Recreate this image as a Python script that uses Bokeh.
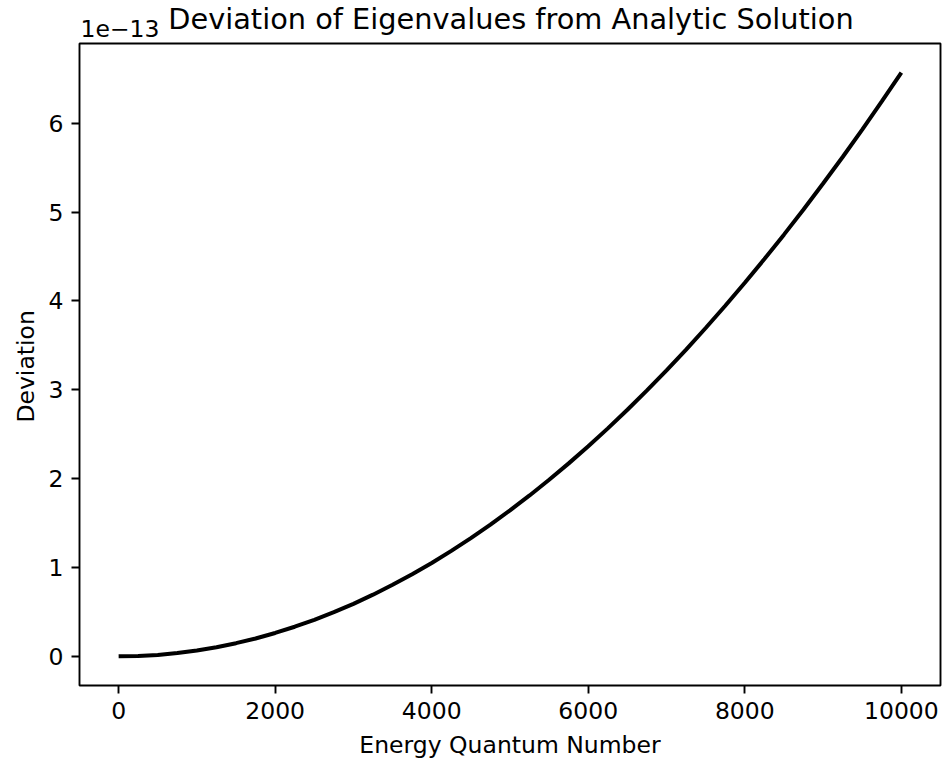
from bokeh.plotting import figure
from bokeh.models import FixedTicker, Label, Range1d, BoxAnnotation
from bokeh.embed import file_html
from bokeh.resources import INLINE

# Energy quantum number (x) and deviation (in units of 1e-13)
quantum_number = [0, 250, 500, 750, 1000, 1250, 1500, 1750, 2000, 2250, 2500, 2750,
                  3000, 3250, 3500, 3750, 4000, 4250, 4500, 4750, 5000, 5250, 5500,
                  5750, 6000, 6250, 6500, 6750, 7000, 7250, 7500, 7750, 8000, 8250,
                  8500, 8750, 9000, 9250, 9500, 9750, 10000]
deviation_e13 = [0.000, 0.004, 0.016, 0.037, 0.066, 0.103, 0.148, 0.201, 0.263, 0.333,
                 0.411, 0.497, 0.591, 0.694, 0.805, 0.924, 1.051, 1.187, 1.330, 1.482,
                 1.643, 1.811, 1.987, 2.172, 2.365, 2.566, 2.776, 2.993, 3.219, 3.453,
                 3.696, 3.946, 4.205, 4.472, 4.747, 5.030, 5.322, 5.621, 5.929, 6.246,
                 6.570]
x_ticks = [0, 2000, 4000, 6000, 8000, 10000]
y_ticks = [0, 1, 2, 3, 4, 5, 6]
offset_text = "1e\u221213"
title_text = "Deviation of Eigenvalues from Analytic Solution"
x_label = "Energy Quantum Number"
y_label = "Deviation"

FONT = "DejaVu Sans"
TICK = "23.5px"
W, H = 946, 762
# visible axes box (pixels): left, right, top, bottom
BOX_L, BOX_R, BOX_T, BOX_B = 79, 940, 43, 685
M = 2  # spare pixels of the frame around the box so its border is not clipped
OFFSET_ANCHOR, TITLE_ANCHOR = 27.5, 18.5  # text anchors, pixels from the top

xmin, xmax = min(quantum_number), max(quantum_number)
ymin, ymax = min(deviation_e13), max(deviation_e13)
x_lo, x_hi = xmin - 0.05 * (xmax - xmin), xmax + 0.05 * (xmax - xmin)
y_lo, y_hi = ymin - 0.05 * (ymax - ymin), ymax + 0.05 * (ymax - ymin)

sx = (BOX_R - BOX_L) / (x_hi - x_lo)
sy = (BOX_B - BOX_T) / (y_hi - y_lo)

p = figure(width=W, height=H, output_backend="svg", toolbar_location=None, title=None,
           x_range=Range1d(x_lo - M / sx, x_hi + M / sx),
           y_range=Range1d(y_lo - M / sy, y_hi + BOX_T / sy),
           min_border_left=BOX_L - M, min_border_right=W - BOX_R - M,
           min_border_top=0, min_border_bottom=H - BOX_B - M)
p.border_fill_color = "white"
p.background_fill_color = "white"
p.outline_line_color = None
p.grid.visible = False

p.add_layout(BoxAnnotation(left=x_lo, right=x_hi, bottom=y_lo, top=y_hi,
                           fill_color=None, fill_alpha=0, line_color="black",
                           line_alpha=1.0, line_width=1.9, level="underlay"))

p.line(quantum_number, deviation_e13, line_color="black", line_width=4)

for ax in (p.xaxis[0], p.yaxis[0]):
    ax.axis_line_color = None
    ax.major_tick_line_color = "black"
    ax.major_tick_line_width = 1.9
    ax.major_tick_out = 8 - M
    ax.major_tick_in = M
    ax.minor_tick_line_color = None
    ax.major_label_text_font = FONT
    ax.major_label_text_font_size = TICK
    ax.major_label_text_color = "black"
    ax.axis_label_text_font = FONT
    ax.axis_label_text_font_size = TICK
    ax.axis_label_text_font_style = "normal"
    ax.axis_label_text_color = "black"

p.xaxis.ticker = FixedTicker(ticks=x_ticks)
p.yaxis.ticker = FixedTicker(ticks=y_ticks)
p.xaxis.axis_label = x_label
# the y label is centred on the frame, which reaches the top edge; pad it so that it
# sits centred on the visible box instead
p.yaxis.axis_label = y_label + "\u00a0" * 6
p.xaxis.major_label_standoff = 8
p.yaxis.major_label_standoff = 8
p.xaxis.axis_label_standoff = 9
p.yaxis.axis_label_standoff = 6

p.add_layout(Label(x=x_lo, y=y_hi + (BOX_T - OFFSET_ANCHOR) / sy, x_offset=1,
                   text=offset_text, text_font=FONT, text_font_size=TICK,
                   text_align="left", text_baseline="alphabetic", text_color="black"))
p.add_layout(Label(x=(x_lo + x_hi) / 2, y=y_hi + (BOX_T - TITLE_ANCHOR) / sy, x_offset=1,
                   text=title_text, text_font=FONT, text_font_size="28.8px",
                   text_align="center", text_baseline="alphabetic", text_color="black"))

open("out.html", "w").write(file_html(p, INLINE))
